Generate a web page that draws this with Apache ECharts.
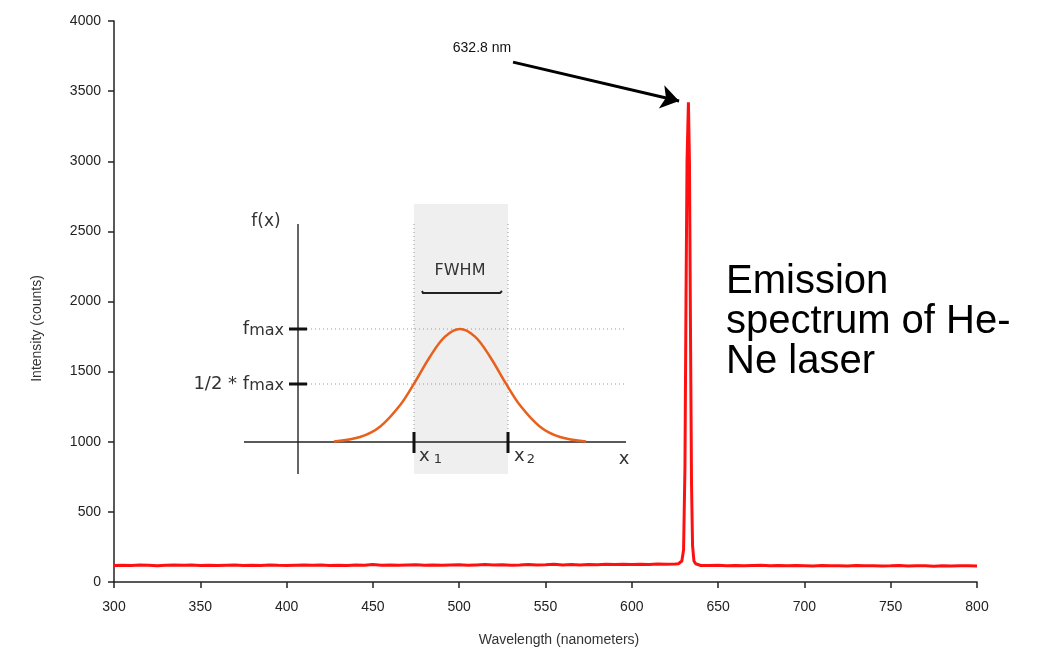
<!DOCTYPE html>
<html>
<head>
<meta charset="utf-8">
<script src="https://cdn.jsdelivr.net/npm/echarts@6/dist/echarts.min.js"></script>
<style>
html,body{margin:0;padding:0;background:#fff;}
#chart{width:1052px;height:651px;}
</style>
</head>
<body>
<div id="chart"></div>
<script>
// Wavelength (nm) and intensity (counts)
const wavelengths = [
  300,305,310,315,320,325,330,335,340,345,350,355,360,365,370,375,380,385,390,395,
  400,405,410,415,420,425,430,435,440,445,450,455,460,465,470,475,480,485,490,495,
  500,505,510,515,520,525,530,535,540,545,550,555,560,565,570,575,580,585,590,595,
  600,605,610,615,620,625,627,628,629,630,630.8,631.4,632,632.8,633.4,634,634.6,635.2,636,637,638,
  640,645,650,655,660,665,670,675,680,685,690,695,700,705,710,715,720,725,730,735,
  740,745,750,755,760,765,770,775,780,785,790,795,800
];
const intensity = [
  118,120,117,121,119,116,120,121,119,122,118,120,117,119,121,118,120,117,121,119,
  118,120,122,119,121,118,120,117,121,119,124,120,122,119,121,123,120,122,119,121,
  123,120,122,124,121,123,120,122,125,121,123,126,122,124,121,125,123,127,124,126,
  125,127,124,128,126,128,130,134,150,230,820,2000,3000,3420,3000,1800,700,260,150,130,124,
  118,117,119,116,118,115,117,119,116,118,115,117,116,114,117,115,116,114,117,115,
  116,114,115,117,114,116,115,113,116,114,115,116,114
];
const xTicks = { min: 300, max: 800, interval: 50 };
const yTicks = { min: 0, max: 4000, interval: 500 };
const peakLabel = '632.8 nm';
const arrowStart = [531.2, 3707];
const arrowEnd = [627.4, 3430];
const labelAt = [513.2, 3807];

const seriesData = wavelengths.map((w, i) => [w, intensity[i]]);

const inkInset = '#333';
const insetFont = 'DejaVu Sans';

const chart = echarts.init(document.getElementById('chart'), null, { renderer: 'canvas' });
chart.setOption({
  animation: false,
  backgroundColor: '#fff',
  title: {
    text: 'Emission\nspectrum of He-\nNe laser',
    left: 726, top: 262, padding: 0,
    textStyle: { fontSize: 40, fontWeight: 'normal', lineHeight: 40, color: '#000', fontFamily: 'Liberation Sans' }
  },
  grid: { left: 114, right: 75, top: 21, bottom: 69, containLabel: false, outerBoundsMode: 'none' },
  xAxis: {
    type: 'value', min: xTicks.min, max: xTicks.max, interval: xTicks.interval,
    name: 'Wavelength (nanometers)', nameLocation: 'middle', nameGap: 51,
    nameTextStyle: { fontSize: 14, color: '#333', fontFamily: 'Liberation Sans', padding: [0, 0, 0, 27] },
    axisLine: { lineStyle: { color: '#222', width: 1.5 } },
    axisTick: { length: 6, lineStyle: { color: '#222', width: 1.5 } },
    axisLabel: { fontSize: 14, color: '#222', fontFamily: 'Liberation Sans', margin: 18 },
    splitLine: { show: false }
  },
  yAxis: {
    type: 'value', min: yTicks.min, max: yTicks.max, interval: yTicks.interval,
    name: 'Intensity (counts)', nameLocation: 'middle', nameGap: 70,
    nameTextStyle: { fontSize: 14, color: '#333', fontFamily: 'Liberation Sans', padding: [0, 54, 0, 0] },
    axisLine: { show: true, lineStyle: { color: '#222', width: 1.5 } },
    axisTick: { show: true, length: 6, lineStyle: { color: '#222', width: 1.5 } },
    axisLabel: { fontSize: 14, color: '#222', fontFamily: 'Liberation Sans', margin: 13, formatter: v => String(v) },
    splitLine: { show: false }
  },
  series: [{
    type: 'line',
    data: seriesData,
    showSymbol: false,
    lineStyle: { color: '#ff1010', width: 3 },
    z: 5,
    markLine: {
      silent: true,
      symbol: ['none', 'arrow'],
      symbolSize: 18,
      lineStyle: { color: '#000', width: 3, type: 'solid' },
      label: { show: false },
      data: [[{ coord: arrowStart }, { coord: arrowEnd }]]
    },
    markPoint: {
      silent: true,
      symbol: 'circle', symbolSize: 0,
      label: { show: true, position: 'inside', color: '#111', fontSize: 14, fontFamily: 'Liberation Sans', formatter: peakLabel },
      data: [{ coord: labelAt }]
    }
  }],
  graphic: [
    // inset FWHM diagram (illustration)
    { type: 'rect', z: 0, shape: { x: 414, y: 204, width: 94, height: 270 }, style: { fill: '#efefef' } },
    { type: 'line', z: 1, shape: { x1: 307, y1: 329, x2: 626, y2: 329 }, style: { stroke: '#999', lineWidth: 1, lineDash: [1, 3] } },
    { type: 'line', z: 1, shape: { x1: 307, y1: 384, x2: 626, y2: 384 }, style: { stroke: '#999', lineWidth: 1, lineDash: [1, 3] } },
    { type: 'line', z: 1, shape: { x1: 414, y1: 224, x2: 414, y2: 442 }, style: { stroke: '#999', lineWidth: 1, lineDash: [1, 3] } },
    { type: 'line', z: 1, shape: { x1: 508, y1: 224, x2: 508, y2: 442 }, style: { stroke: '#999', lineWidth: 1, lineDash: [1, 3] } },
    { type: 'line', z: 2, shape: { x1: 298, y1: 224, x2: 298, y2: 474 }, style: { stroke: '#666', lineWidth: 2 } },
    { type: 'line', z: 2, shape: { x1: 244, y1: 442, x2: 626, y2: 442 }, style: { stroke: '#222', lineWidth: 1.5 } },
    { type: 'line', z: 3, shape: { x1: 289, y1: 329, x2: 307, y2: 329 }, style: { stroke: '#111', lineWidth: 3 } },
    { type: 'line', z: 3, shape: { x1: 289, y1: 384, x2: 307, y2: 384 }, style: { stroke: '#111', lineWidth: 3 } },
    { type: 'line', z: 3, shape: { x1: 414, y1: 432, x2: 414, y2: 453 }, style: { stroke: '#111', lineWidth: 3 } },
    { type: 'line', z: 3, shape: { x1: 508, y1: 432, x2: 508, y2: 453 }, style: { stroke: '#111', lineWidth: 3 } },
    { type: 'polyline', z: 3, shape: { points: [[422, 291], [423, 293], [500, 293], [502, 291]] }, style: { stroke: '#222', lineWidth: 2, fill: null } },
    { type: 'polyline', z: 4, shape: { smooth: 0.35, points: [
        [334, 441.5], [360, 437], [380, 426.7], [400, 405.3], [414, 383.7], [430, 356.7], [445, 336.7], [460, 329],
        [475, 336.7], [490, 356.7], [506, 383.7], [520, 405.3], [540, 426.7], [560, 437], [586, 441.5]] },
      style: { stroke: '#e8601c', lineWidth: 2.5, fill: null } },
    { type: 'text', z: 4, x: 266, y: 222, style: { text: 'f(x)', fill: inkInset, font: '17px "DejaVu Sans"', align: 'center', verticalAlign: 'middle' } },
    { type: 'text', z: 4, x: 460, y: 271, style: { text: 'FWHM', fill: inkInset, font: '16px "DejaVu Sans"', align: 'center', verticalAlign: 'middle' } },
    { type: 'text', z: 4, x: 284, y: 339, style: { text: '{a|f}{b|max}', align: 'right', verticalAlign: 'bottom',
        rich: { a: { fontSize: 18, fontFamily: insetFont, fill: inkInset }, b: { fontSize: 16, fontFamily: insetFont, fill: inkInset, padding: [4, 0, 0, 0] } } } },
    { type: 'text', z: 4, x: 284, y: 394, style: { text: '{a|1/2 * f}{b|max}', align: 'right', verticalAlign: 'bottom',
        rich: { a: { fontSize: 18, fontFamily: insetFont, fill: inkInset }, b: { fontSize: 16, fontFamily: insetFont, fill: inkInset, padding: [4, 0, 0, 0] } } } },
    { type: 'text', z: 4, x: 419, y: 466, style: { text: '{a|x}{b| 1}', align: 'left', verticalAlign: 'bottom',
        rich: { a: { fontSize: 18, fontFamily: insetFont, fill: inkInset }, b: { fontSize: 13, fontFamily: insetFont, fill: inkInset, padding: [6, 0, 0, 0] } } } },
    { type: 'text', z: 4, x: 514, y: 466, style: { text: '{a|x}{b|2}', align: 'left', verticalAlign: 'bottom',
        rich: { a: { fontSize: 18, fontFamily: insetFont, fill: inkInset }, b: { fontSize: 13, fontFamily: insetFont, fill: inkInset, padding: [6, 0, 0, 2] } } } },
    { type: 'text', z: 4, x: 624, y: 459, style: { text: 'x', fill: inkInset, font: '18px "DejaVu Sans"', align: 'center', verticalAlign: 'middle' } }
  ]
});
</script>
</body>
</html>
